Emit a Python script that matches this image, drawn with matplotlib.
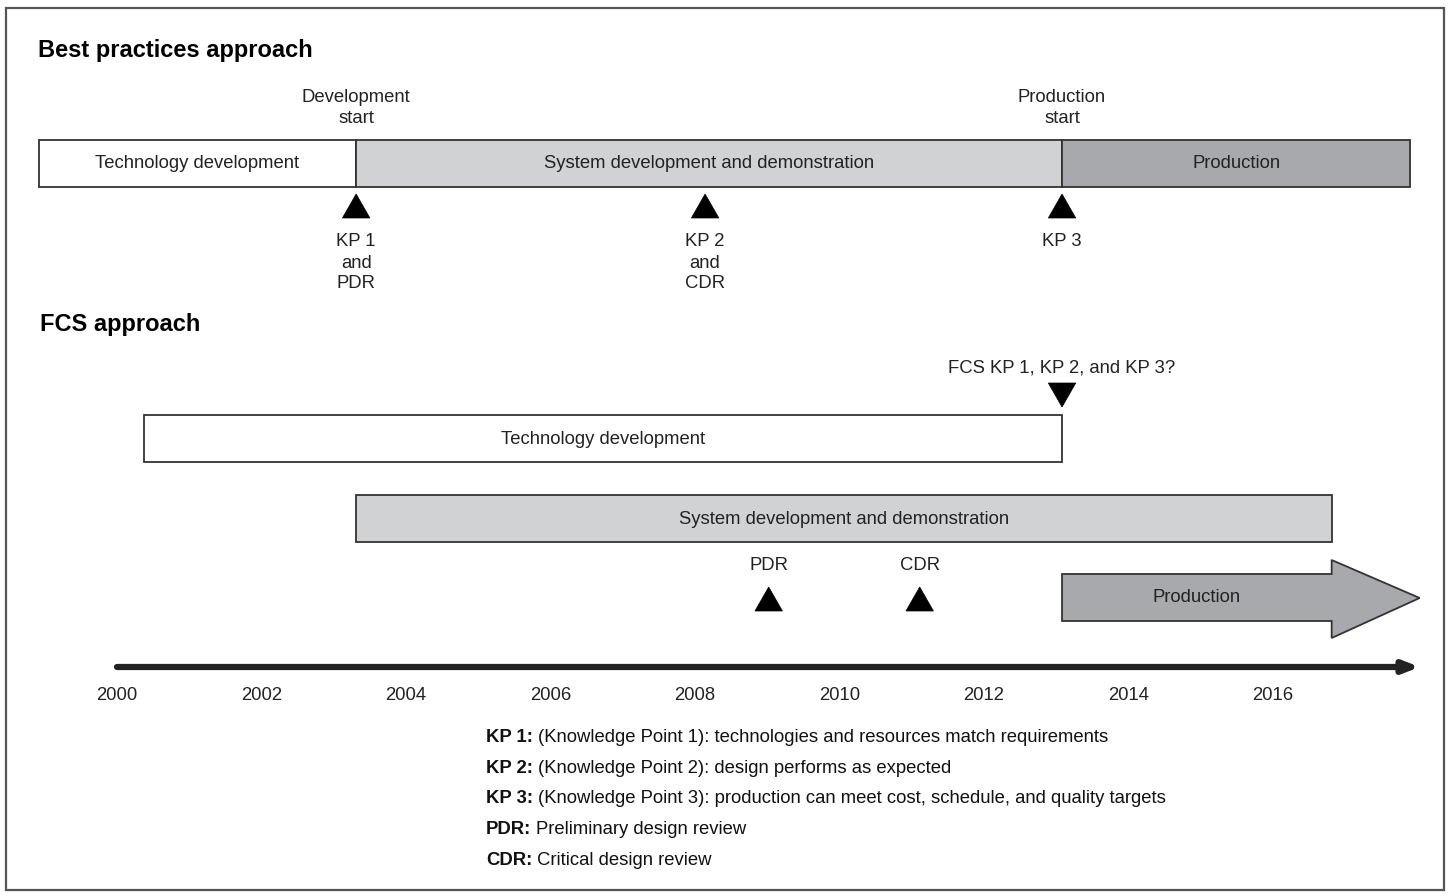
import matplotlib.pyplot as plt
from matplotlib.patches import Rectangle, Polygon

plt.rcParams["font.family"] = ["Liberation Sans", "DejaVu Sans"]

# timeline years (x axis)
tick_years = [2000, 2002, 2004, 2006, 2008, 2010, 2012, 2014, 2016]

# best practices approach
bp_phases = ["Technology development", "System development and demonstration", "Production"]
bp_start = [1998.92, 2003.31, 2013.08]
bp_end = [2003.31, 2013.08, 2017.90]
bp_colors = ["white", "#d1d2d4", "#a7a9ac"]
bp_gates = [2003.31, 2013.08]
bp_gate_labels = ["Development\nstart", "Production\nstart"]
bp_kp = [2003.31, 2008.14, 2013.08]
bp_kp_labels = ["KP 1\nand\nPDR", "KP 2\nand\nCDR", "KP 3"]

# FCS approach
fcs_phases = ["Technology development", "System development and demonstration"]
fcs_start = [2000.37, 2003.31]
fcs_end = [2013.08, 2016.82]
fcs_colors = ["white", "#d1d2d4"]
fcs_prod_start = 2013.08
fcs_prod_end = 2018.03
fcs_kp = 2013.08
fcs_reviews = [2009.02, 2011.11]
fcs_review_labels = ["PDR", "CDR"]

legend_keys = ["KP 1:", "KP 2:", "KP 3:", "PDR:", "CDR:"]
legend_text = [
    "(Knowledge Point 1): technologies and resources match requirements",
    "(Knowledge Point 2): design performs as expected",
    "(Knowledge Point 3): production can meet cost, schedule, and quality targets",
    "Preliminary design review",
    "Critical design review",
]

px = 72.25  # pixels per year
fig = plt.figure(figsize=(14.49, 8.96), dpi=100)
ax = fig.add_axes([0, 0, 1, 1])
ax.set_xlim(2000 - 117 / px, 2000 + (1449 - 117) / px)
ax.set_ylim(896, 0)
ax.axis("off")

# outer frame
fig.patches.append(Rectangle((6 / 1449, 6 / 896), 1438 / 1449, 882 / 896, transform=fig.transFigure,
                             fill=False, edgecolor="#555555", linewidth=1.6))

edge = "#333333"
txt = "#222222"
fs = 13.3
tri_w = 0.19  # half width in years
tri_h = 24


def triangle(x, y_top, down=False):
    if down:
        pts = [(x - tri_w, y_top), (x + tri_w, y_top), (x, y_top + tri_h)]
    else:
        pts = [(x, y_top), (x - tri_w, y_top + tri_h), (x + tri_w, y_top + tri_h)]
    ax.add_patch(Polygon(pts, closed=True, facecolor="black", edgecolor="black", linewidth=0.5))


def lines(x, y0, label, step=21):
    for i, line in enumerate(label.split("\n")):
        ax.text(x, y0 + i * step, line, fontsize=fs, ha="center", va="center", color=txt)


# --- Best practices ---
ax.text(1998.90, 50, "Best practices approach", fontsize=17, fontweight="bold", va="center", ha="left")
for name, s, e, c in zip(bp_phases, bp_start, bp_end, bp_colors):
    ax.add_patch(Rectangle((s, 140), e - s, 47, facecolor=c, edgecolor=edge, linewidth=1.3))
    ax.text((s + e) / 2, 163, name, fontsize=fs, ha="center", va="center", color=txt)
for g, lab in zip(bp_gates, bp_gate_labels):
    lines(g, 97.5, lab)
for k, lab in zip(bp_kp, bp_kp_labels):
    triangle(k, 194)
    lines(k, 242, lab)

# --- FCS ---
ax.text(1998.93, 325, "FCS approach", fontsize=17, fontweight="bold", va="center", ha="left")
ax.text(fcs_kp, 368, "FCS KP 1, KP 2, and KP 3?", fontsize=fs, ha="center", va="center", color=txt)
triangle(fcs_kp, 383, down=True)
rows = [415, 495]
for name, s, e, c, y in zip(fcs_phases, fcs_start, fcs_end, fcs_colors, rows):
    ax.add_patch(Rectangle((s, y), e - s, 47, facecolor=c, edgecolor=edge, linewidth=1.3))
    ax.text((s + e) / 2, y + 24, name, fontsize=fs, ha="center", va="center", color=txt)
for r, lab in zip(fcs_reviews, fcs_review_labels):
    ax.text(r, 565, lab, fontsize=fs, ha="center", va="center", color=txt)
    triangle(r, 587)

# production arrow
head_start = fcs_prod_end - 88 / px
arrow = [(fcs_prod_start, 574), (head_start, 574), (head_start, 560), (fcs_prod_end, 598),
         (head_start, 638), (head_start, 621), (fcs_prod_start, 621)]
ax.add_patch(Polygon(arrow, closed=True, facecolor="#a7a9ac", edgecolor=edge, linewidth=1.3))
ax.text((fcs_prod_start + head_start) / 2, 598, "Production", fontsize=fs, ha="center",
        va="center", color=txt)

# time axis
ax.annotate("", xy=(2018.03, 667), xytext=(2000, 667),
            arrowprops=dict(arrowstyle="-|>,head_length=0.9,head_width=0.35", lw=4.5, color="#222222",
                            shrinkA=0, shrinkB=0))
for yr in tick_years:
    ax.text(yr, 695, str(yr), fontsize=fs, ha="center", va="center", color=txt)

# legend
leg_x = 2000 + (486 - 117) / px
renderer = fig.canvas.get_renderer()
for i, (k, t) in enumerate(zip(legend_keys, legend_text)):
    y = 742 + i * 30.7
    b = ax.text(leg_x, y, k, fontsize=fs, fontweight="bold", ha="left", va="baseline", color="#111111")
    w = b.get_window_extent(renderer).width / px
    ax.text(leg_x + w + 5 / px, y, t, fontsize=fs, ha="left", va="baseline", color="#111111")

fig.savefig("out.png", dpi=100)
plt.close(fig)
